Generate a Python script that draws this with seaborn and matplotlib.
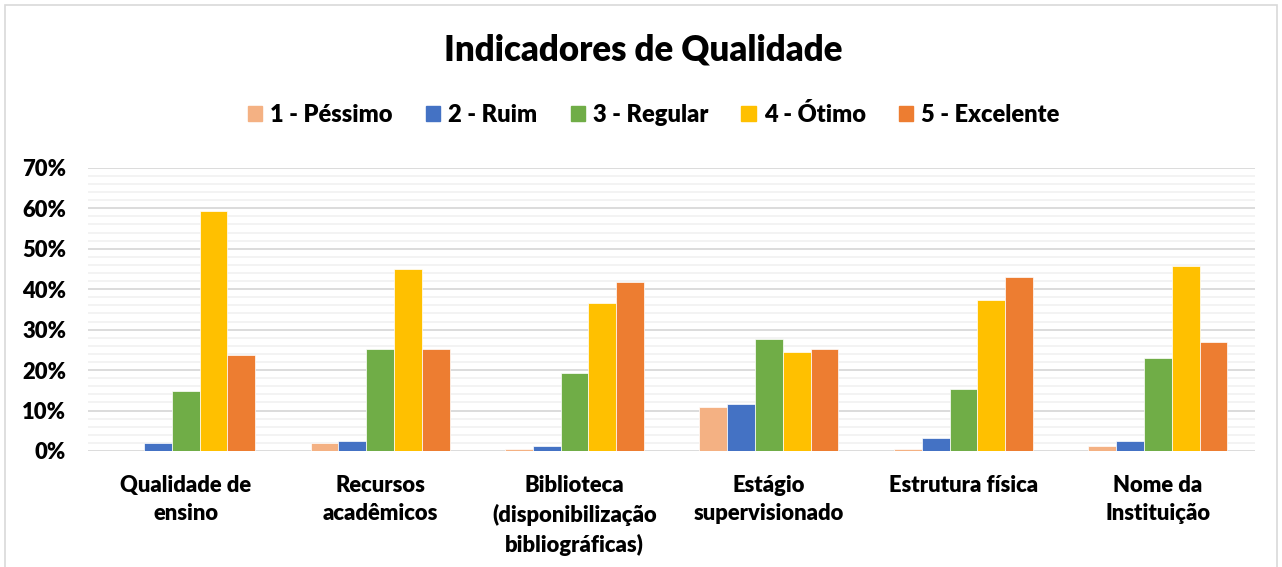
import pandas as pd
import numpy as np
import matplotlib.pyplot as plt
import seaborn as sns
from matplotlib.patches import Rectangle
from matplotlib.ticker import MultipleLocator, PercentFormatter

# dados (%)
categorias = ['Qualidade de\nensino', 'Recursos\nacadêmicos',
              'Biblioteca\n(disponibilização\nbibliográficas)',
              'Estágio\nsupervisionado', 'Estrutura física',
              'Nome da\nInstituição']
niveis = ['1 - Péssimo', '2 - Ruim', '3 - Regular', '4 - Ótimo', '5 - Excelente']
pessimo = [0.0, 1.9, 0.5, 10.9, 0.5, 1.2]
ruim = [1.9, 2.5, 1.2, 11.5, 3.2, 2.5]
regular = [14.8, 25.1, 19.2, 27.6, 15.4, 23.1]
otimo = [59.2, 45.0, 36.6, 24.4, 37.3, 45.7]
excelente = [23.8, 25.1, 41.8, 25.1, 43.0, 27.0]
cores = ['#F4B183', '#4472C4', '#70AD47', '#FFC000', '#ED7D31']

series = [pessimo, ruim, regular, otimo, excelente]
linhas = []
for nivel, vals in zip(niveis, series):
    for cat, v in zip(categorias, vals):
        linhas.append({'categoria': cat, 'nivel': nivel, 'valor': v / 100})
df = pd.DataFrame(linhas)

sns.set_style('white')
plt.rcParams['font.family'] = ['Lato', 'DejaVu Sans']
plt.rcParams['text.color'] = 'black'
plt.rcParams['xtick.color'] = 'black'
plt.rcParams['ytick.color'] = 'black'

fig = plt.figure(figsize=(12.82, 5.67), dpi=100)
ax = fig.add_axes([0.069, 0.2046, 0.91, 0.4995])

sns.barplot(data=df, x='categoria', y='valor', hue='nivel', order=categorias,
            hue_order=niveis, palette=cores, width=0.715, ax=ax,
            edgecolor='white', linewidth=0.5, errorbar=None, saturation=1)

ax.set_ylim(0, 0.7)
ax.yaxis.set_major_locator(MultipleLocator(0.1))
ax.yaxis.set_minor_locator(MultipleLocator(0.02))
ax.yaxis.set_major_formatter(PercentFormatter(1.0, decimals=0))
ax.grid(axis='y', which='major', color='#D9D9D9', linewidth=1.3)
ax.grid(axis='y', which='minor', color='#F2F2F2', linewidth=1.3)
ax.set_axisbelow(True)
for s in ax.spines.values():
    s.set_visible(False)
ax.tick_params(axis='both', which='both', length=0, colors='black')
ax.tick_params(axis='y', pad=16)
ax.tick_params(axis='x', pad=17)
ax.set_xlabel('')
ax.set_ylabel('')
for lbl in ax.get_xticklabels() + ax.get_yticklabels():
    lbl.set_fontsize(15.8)
    lbl.set_fontweight('heavy')
    lbl.set_color('black')
for lbl in ax.get_xticklabels():
    lbl.set_linespacing(1.45)
ax.set_xlim(-0.5, len(categorias) - 0.5)

ax.legend_.remove()
handles = [Rectangle((0, 0), 1, 1, color=c) for c in cores]
leg = fig.legend(handles, niveis, loc='center', bbox_to_anchor=(0.51, 0.798), ncol=5,
                 frameon=False, prop={'weight': 'heavy', 'size': 17},
                 handlelength=0.6, handleheight=0.6, handletextpad=0.35,
                 columnspacing=1.4, labelcolor='black')

fig.text(0.502, 0.912, 'Indicadores de Qualidade', ha='center', va='center',
         fontsize=25, fontweight='heavy', color='black')

fig.patches.append(Rectangle((0.004, -0.02), 0.992, 1.011, transform=fig.transFigure,
                             fill=False, edgecolor='#D9D9D9', linewidth=1.2))

plt.savefig('out.png', dpi=100)
plt.close()
